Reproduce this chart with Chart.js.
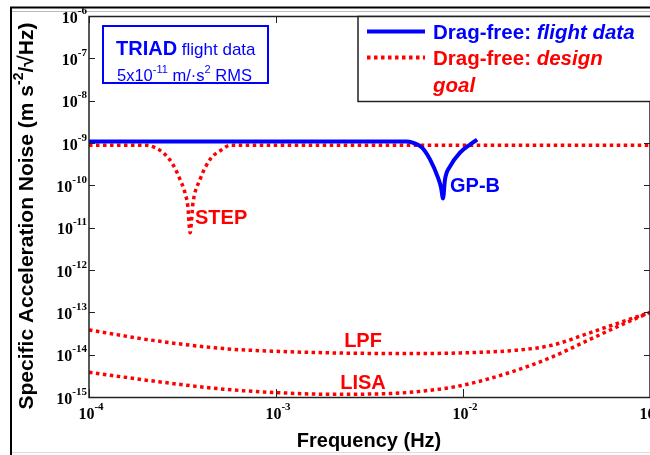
<!DOCTYPE html>
<html>
<head>
<meta charset="utf-8">
<script src="https://cdn.jsdelivr.net/npm/chart.js@4/dist/chart.umd.min.js"></script>
<style>
html,body{margin:0;padding:0;background:#fff;}
#wrap{width:650px;height:455px;position:relative;}
</style>
</head>
<body>
<div id="wrap"><canvas id="c" width="650" height="455"></canvas></div>
<script>
// ---------- data ----------
const xTickValues = [1e-4, 1e-3, 1e-2, 1e-1];
const xTickExponents = ['-4', '-3', '-2', '-1'];
const yTickValues = [1e-15, 1e-14, 1e-13, 1e-12, 1e-11, 1e-10, 1e-9, 1e-8, 1e-7, 1e-6];
const yTickExponents = ['-15', '-14', '-13', '-12', '-11', '-10', '-9', '-8', '-7', '-6'];

// GP-B drag-free flight data (blue)
const gpbFreq  = [1e-4, 5.0e-3, 5.33e-3, 6.04e-3, 6.66e-3, 7.35e-3, 7.63e-3, 7.82e-3, 8.01e-3, 8.51e-3, 9.64e-3, 1.09e-2, 1.19e-2];
const gpbNoise = [1.08e-9, 1.08e-9, 1.03e-9, 7.8e-10, 4.1e-10, 1.52e-10, 8.9e-11, 4.9e-11, 1.36e-10, 2.77e-10, 5.9e-10, 9.2e-10, 1.2e-9];

// STEP design goal (red dotted)
const stepFreq  = [1e-4, 2.0e-4, 2.49e-4, 2.81e-4, 3.07e-4, 3.26e-4, 3.38e-4, 3.47e-4, 3.60e-4, 3.92e-4, 4.44e-4, 5.14e-4, 5.68e-4, 1e-1];
const stepNoise = [8.8e-10, 8.8e-10, 5.9e-10, 3.1e-10, 1.36e-10, 6.7e-11, 3.1e-11, 7.6e-12, 3.9e-11, 1.36e-10, 4.1e-10, 7.0e-10, 8.8e-10, 8.8e-10];

// LPF design goal (red dotted)
const lpfFreq  = [1e-4, 2.14e-4, 5.26e-4, 1e-3, 2.02e-3, 4.97e-3, 9.7e-3, 1.91e-2, 2.99e-2, 4.68e-2, 6.7e-2, 1e-1];
const lpfNoise = [3.84e-14, 2.21e-14, 1.39e-14, 1.2e-14, 1.1e-14, 1.06e-14, 1.1e-14, 1.27e-14, 1.67e-14, 3.19e-14, 5.5e-14, 1.0e-13];

// LISA design goal (red dotted)
const lisaFreq  = [1e-4, 2.14e-4, 5.26e-4, 1e-3, 2.02e-3, 3.96e-3, 6.2e-3, 1e-2, 1.91e-2, 2.99e-2, 4.68e-2, 6.7e-2, 1e-1];
const lisaNoise = [3.84e-15, 2.42e-15, 1.53e-15, 1.27e-15, 1.16e-15, 1.2e-15, 1.39e-15, 1.9e-15, 4.2e-15, 8.8e-15, 2.2e-14, 4.6e-14, 1.0e-13];

// curve labels anchored at data coordinates: [text, freq, noise, align, colour]
const curveLabels = [
  ['STEP', 3.69e-4, 1.25e-11, 'left', '#ff0000'],
  ['GP-B', 8.52e-3, 7.1e-11, 'left', '#0000ff'],
  ['LPF', 2.92e-3, 1.54e-14, 'center', '#ff0000'],
  ['LISA', 2.92e-3, 1.56e-15, 'center', '#ff0000']
];

const BLUE = '#0000ff', RED = '#ff0000';
const SANS = '"Liberation Sans", Arial, Helvetica, sans-serif';
const SERIF = '"Liberation Serif", "Times New Roman", serif';

function pts(fs, vs) { return fs.map((f, i) => ({x: f, y: vs[i]})); }

function richWidth(ctx, segs) {
  let w = 0;
  for (const s of segs) { ctx.font = s.font; w += ctx.measureText(s.t).width; }
  return w;
}
function drawRich(ctx, segs, x, y, color) {
  ctx.fillStyle = color;
  ctx.textBaseline = 'alphabetic';
  ctx.textAlign = 'left';
  let cx = x;
  for (const s of segs) {
    ctx.font = s.font;
    ctx.fillText(s.t, cx, y + (s.dy || 0));
    cx += ctx.measureText(s.t).width;
  }
  return cx - x;
}
function powSegs(exp) {
  return [
    {t: '10', font: 'bold 16px ' + SERIF, dy: 0},
    {t: exp, font: 'bold 11px ' + SERIF, dy: -9}
  ];
}

const decor = {
  id: 'decor',
  beforeDraw(chart) {
    const ctx = chart.ctx;
    ctx.save();
    ctx.fillStyle = '#fff';
    ctx.fillRect(0, 0, chart.width, chart.height);
    ctx.restore();
  },
  afterDraw(chart) {
    const ctx = chart.ctx;
    const a = chart.chartArea;
    const xs = chart.scales.x, ys = chart.scales.y;
    ctx.save();

    // figure frame
    ctx.strokeStyle = '#000';
    ctx.lineWidth = 2;
    ctx.beginPath();
    ctx.moveTo(11, 455); ctx.lineTo(11, 7.5); ctx.lineTo(660, 7.5);
    ctx.stroke();
    ctx.strokeStyle = '#bbb';
    ctx.lineWidth = 1;
    ctx.beginPath(); ctx.moveTo(12, 11.5); ctx.lineTo(650, 11.5); ctx.stroke();
    ctx.strokeStyle = '#ddd';
    ctx.beginPath(); ctx.moveTo(12, 452.5); ctx.lineTo(650, 452.5); ctx.stroke();

    // plot box
    ctx.strokeStyle = '#222';
    ctx.lineWidth = 1.5;
    ctx.strokeRect(a.left, a.top + 0.5, a.right - a.left, a.bottom - a.top);

    // inward ticks
    ctx.lineWidth = 1;
    ctx.strokeStyle = '#222';
    ctx.beginPath();
    xs.ticks.forEach(t => {
      const px = Math.round(xs.getPixelForValue(t.value)) + 0.5;
      ctx.moveTo(px, a.bottom); ctx.lineTo(px, a.bottom - 8);
      ctx.moveTo(px, a.top); ctx.lineTo(px, a.top + 7);
    });
    ys.ticks.forEach(t => {
      const py = Math.round(ys.getPixelForValue(t.value)) + 0.5;
      ctx.moveTo(a.left, py); ctx.lineTo(a.left + 6, py);
      ctx.moveTo(a.right, py); ctx.lineTo(a.right - 6, py);
    });
    ctx.stroke();

    // tick labels
    xs.ticks.forEach(t => {
      const px = xs.getPixelForValue(t.value);
      const segs = powSegs(xTickExponents[xTickValues.indexOf(t.value)]);
      const w = richWidth(ctx, segs);
      drawRich(ctx, segs, px - w / 2 + 2, a.bottom + 22, '#000');
    });
    ys.ticks.forEach(t => {
      const py = ys.getPixelForValue(t.value);
      const segs = powSegs(yTickExponents[yTickValues.indexOf(t.value)]);
      const w = richWidth(ctx, segs);
      drawRich(ctx, segs, a.left - 2 - w, py + 6.5, '#000');
    });

    // axis titles
    ctx.fillStyle = '#000';
    ctx.font = 'bold 20px ' + SANS;
    ctx.textAlign = 'center';
    ctx.textBaseline = 'alphabetic';
    ctx.fillText('Frequency (Hz)', 369, 447);

    const ySegs = [
      {t: 'Specific Acceleration Noise (m s', font: 'bold 21px ' + SANS, dy: 0},
      {t: '-2', font: 'bold 14px ' + SANS, dy: -10},
      {t: '/\u221AHz)', font: 'bold 21px ' + SANS, dy: 0}
    ];
    ctx.save();
    ctx.translate(33, 216);
    ctx.rotate(-Math.PI / 2);
    const yw = richWidth(ctx, ySegs);
    drawRich(ctx, ySegs, -yw / 2, 0, '#000');
    ctx.restore();

    // curve labels
    curveLabels.forEach(([txt, f, v, al, col]) => {
      ctx.font = 'bold 20px ' + SANS;
      ctx.fillStyle = col;
      ctx.textAlign = al;
      ctx.textBaseline = 'alphabetic';
      ctx.fillText(txt, xs.getPixelForValue(f), ys.getPixelForValue(v));
    });

    // TRIAD box
    ctx.strokeStyle = BLUE;
    ctx.lineWidth = 2;
    ctx.strokeRect(103, 26, 165, 57);
    drawRich(ctx, [
      {t: 'TRIAD', font: 'bold 20px ' + SANS},
      {t: ' flight data', font: '17px ' + SANS}
    ], 116, 55, BLUE);
    drawRich(ctx, [
      {t: '5x10', font: '16.5px ' + SANS},
      {t: '-11', font: '11px ' + SANS, dy: -8},
      {t: ' m/\u00B7s', font: '16.5px ' + SANS},
      {t: '2', font: '11px ' + SANS, dy: -8},
      {t: ' RMS', font: '16.5px ' + SANS}
    ], 117, 81, BLUE);

    // legend
    ctx.fillStyle = '#fff';
    ctx.fillRect(358, a.top + 0.5, 300, 85);
    ctx.strokeStyle = '#222';
    ctx.lineWidth = 1.5;
    ctx.strokeRect(358, a.top + 0.5, 300, 85);
    ctx.lineCap = 'butt';
    ctx.strokeStyle = BLUE;
    ctx.lineWidth = 4;
    ctx.setLineDash([]);
    ctx.beginPath(); ctx.moveTo(367, 31.5); ctx.lineTo(425, 31.5); ctx.stroke();
    ctx.strokeStyle = RED;
    ctx.setLineDash([3.5, 3.5]);
    ctx.beginPath(); ctx.moveTo(367, 57.5); ctx.lineTo(425, 57.5); ctx.stroke();
    ctx.setLineDash([]);
    drawRich(ctx, [
      {t: 'Drag-free: ', font: 'bold 20.5px ' + SANS},
      {t: 'flight data', font: 'italic bold 20.5px ' + SANS}
    ], 433, 39, BLUE);
    drawRich(ctx, [
      {t: 'Drag-free: ', font: 'bold 20.5px ' + SANS},
      {t: 'design', font: 'italic bold 20.5px ' + SANS}
    ], 433, 65, RED);
    drawRich(ctx, [
      {t: 'goal', font: 'italic bold 20.5px ' + SANS}
    ], 433, 92, RED);

    ctx.restore();
  }
};

const lineBase = {
  pointRadius: 0,
  pointHoverRadius: 0,
  showLine: true,
  fill: false,
  cubicInterpolationMode: 'monotone',
  borderCapStyle: 'butt'
};

new Chart(document.getElementById('c'), {
  type: 'scatter',
  data: {
    datasets: [
      Object.assign({}, lineBase, {label: 'Drag-free: flight data (GP-B)', data: pts(gpbFreq, gpbNoise), borderColor: BLUE, borderWidth: 4}),
      Object.assign({}, lineBase, {label: 'Drag-free: design goal (STEP)', data: pts(stepFreq, stepNoise), borderColor: RED, borderWidth: 3.5, borderDash: [3.5, 3.5]}),
      Object.assign({}, lineBase, {label: 'Drag-free: design goal (LPF)', data: pts(lpfFreq, lpfNoise), borderColor: RED, borderWidth: 3.5, borderDash: [3.5, 3.5]}),
      Object.assign({}, lineBase, {label: 'Drag-free: design goal (LISA)', data: pts(lisaFreq, lisaNoise), borderColor: RED, borderWidth: 3.5, borderDash: [3.5, 3.5]})
    ]
  },
  options: {
    responsive: false,
    animation: false,
    events: [],
    layout: {padding: {left: 89, right: 0, top: 16, bottom: 58}},
    plugins: {legend: {display: false}, tooltip: {enabled: false}, title: {display: false}},
    scales: {
      x: {
        type: 'logarithmic', min: 1e-4, max: 1e-1,
        grid: {display: false, drawTicks: false}, border: {display: false},
        ticks: {display: false},
        afterBuildTicks: s => { s.ticks = xTickValues.map(v => ({value: v})); }
      },
      y: {
        type: 'logarithmic', min: 1e-15, max: 1e-6,
        grid: {display: false, drawTicks: false}, border: {display: false},
        ticks: {display: false},
        afterBuildTicks: s => { s.ticks = yTickValues.map(v => ({value: v})); }
      }
    }
  },
  plugins: [decor]
});
</script>
</body>
</html>
